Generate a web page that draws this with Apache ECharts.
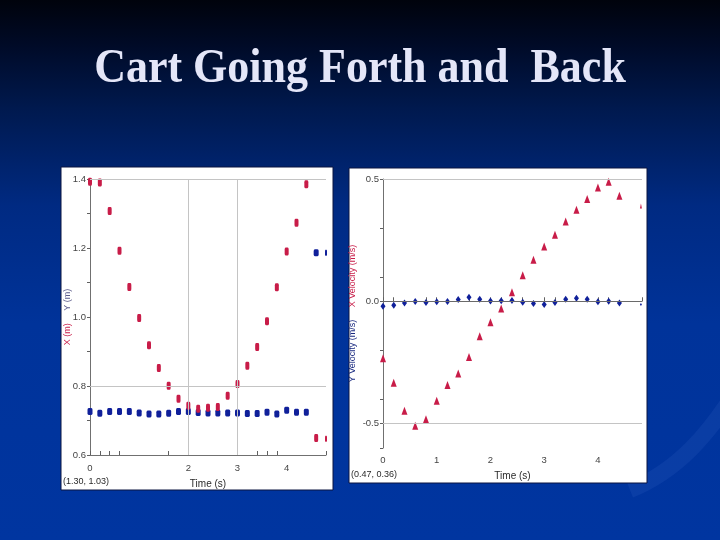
<!DOCTYPE html>
<html>
<head>
<meta charset="utf-8">
<script src="https://cdn.jsdelivr.net/npm/echarts@6/dist/echarts.min.js"></script>
<style>
html,body{margin:0;padding:0;background:#001a60;}
#chart{width:720px;height:540px;}
</style>
</head>
<body>
<div id="chart"></div>
<script>
// ---- data ----
const titleText = 'Cart Going Forth and  Back';
const time = [0, 0.2, 0.4, 0.6, 0.8, 1.0, 1.2, 1.4, 1.6, 1.8, 2.0, 2.2, 2.4, 2.6, 2.8, 3.0, 3.2, 3.4, 3.6, 3.8, 4.0, 4.2, 4.4, 4.6, 4.8];
// left graph: position
const posX = [1.392, 1.390, 1.307, 1.192, 1.087, 0.997, 0.918, 0.852, 0.801, 0.763, 0.743, 0.734, 0.737, 0.739, 0.772, 0.806, 0.859, 0.913, 0.988, 1.086, 1.190, 1.273, 1.385, 0.649, 0.647];
const posY = [0.726, 0.721, 0.726, 0.726, 0.726, 0.722, 0.719, 0.719, 0.721, 0.726, 0.726, 0.723, 0.722, 0.722, 0.722, 0.722, 0.720, 0.720, 0.724, 0.719, 0.730, 0.724, 0.724, 1.186, 1.186];
// right graph: velocity
const velX = [-0.233, -0.333, -0.448, -0.509, -0.482, -0.407, -0.342, -0.295, -0.228, -0.143, -0.086, -0.030, 0.037, 0.106, 0.170, 0.224, 0.272, 0.326, 0.374, 0.418, 0.465, 0.489, 0.431, null, 0.390];
const velY = [-0.020, -0.016, -0.007, -0.001, -0.005, -0.002, -0.001, 0.007, 0.016, 0.008, 0.001, 0.002, 0.003, -0.004, -0.009, -0.013, -0.005, 0.008, 0.012, 0.008, -0.002, 0.000, -0.007, null, -0.013];
// axis ticks / labels
const leftXTicks = [0, 0.2, 0.4, 0.6, 1.6, 2, 3, 3.4, 3.6, 3.8, 4.8];
const leftXLabels = [0, 2, 3, 4];
const leftYTicks = [0.6, 0.7, 0.8, 0.9, 1.0, 1.1, 1.2, 1.3, 1.4];
const leftYLabels = [0.6, 0.8, 1.0, 1.2, 1.4];
const leftGridY = [1.4, 0.8];
const leftGridX = [2, 3];
const rightXTicks = [0, 0.2, 0.8, 1, 1.6, 2, 2.2, 2.6, 3, 3.2, 3.6, 4, 4.2, 4.82];
const rightXLabels = [0, 1, 2, 3, 4];
const rightYTicks = [0.5, 0.3, 0.1, 0, -0.2, -0.4, -0.5, -0.6];
const rightYLabels = [0.5, 0, -0.5];
const rightGridY = [0.5, -0.5];
const rightZeroY = [0];
const leftReadout = '(1.30, 1.03)';
const rightReadout = '(0.47, 0.36)';
const xName = 'Time (s)';

// ---- build ----
const pair = (xs, ys) => xs.map((x, i) => [x, ys[i]]).filter(p => p[1] !== null);
const RED = '#c81c48', BLUE = '#10209a';
const edgeSize = (full, small) => (v) => v[0] >= 4.79 ? small : full;
const lblStyle = {color: '#444444', fontSize: 9.5, fontFamily: 'Liberation Sans'};

function xAxisCfg(idx, max, ticks, labels, margin) {
  return {
    type: 'value', gridIndex: idx, min: 0, max: max,
    name: xName, nameLocation: 'middle', nameGap: idx === 0 ? 24 : 23, nameMoveOverlap: false,
    nameTextStyle: {color: '#2a2a2a', fontSize: 10, fontFamily: 'Liberation Sans'},
    axisLine: {show: true, lineStyle: {color: '#707070', width: 1}},
    axisTick: {show: true, inside: true, length: 4, customValues: ticks, lineStyle: {color: '#606060'}},
    axisLabel: Object.assign({customValues: labels, margin: margin, formatter: v => String(Math.round(v))}, lblStyle),
    splitLine: {show: false}
  };
}

const option = {
  animation: false,
  graphic: [
    {type: 'rect', z: -20, shape: {x: 0, y: 0, width: 720, height: 540},
     style: {fill: {type: 'linear', x: 0, y: 0, x2: 0, y2: 1, colorStops: [
       {offset: 0, color: '#00030c'}, {offset: 0.08, color: '#000a26'}, {offset: 0.2, color: '#00194e'},
       {offset: 0.38, color: '#002a82'}, {offset: 0.6, color: '#00339a'}, {offset: 1, color: '#0035a0'}]}}},
    {type: 'bezierCurve', z: -19, shape: {x1: 630, y1: 490, x2: 730, y2: 400, cpx1: 680, cpy1: 470, cpx2: 710, cpy2: 430},
     style: {stroke: 'rgba(80,120,220,0.13)', lineWidth: 16, fill: null}},
    {type: 'rect', z: -5, shape: {x: 61, y: 167, width: 272, height: 323}, style: {fill: '#ffffff', stroke: '#0a1440', lineWidth: 1}},
    {type: 'rect', z: -5, shape: {x: 349, y: 168, width: 298, height: 315}, style: {fill: '#ffffff', stroke: '#0a1440', lineWidth: 1}},
    {type: 'text', z: 5, x: 360, y: 70, scaleY: 1.1, originX: 0, originY: 0,
     style: {text: titleText, fill: '#e4e6f8', font: 'bold 44px "Liberation Serif"',
      align: 'center', verticalAlign: 'middle', shadowColor: 'rgba(0,0,0,0.6)', shadowOffsetX: 2, shadowOffsetY: 2, shadowBlur: 2}},
    {type: 'text', z: 5, x: 63, y: 477, style: {text: leftReadout, fill: '#2a2a2a', font: '9px "Liberation Sans"'}},
    {type: 'text', z: 5, x: 351, y: 470, style: {text: rightReadout, fill: '#2a2a2a', font: '9px "Liberation Sans"'}}
  ],
  grid: [
    {left: 90, top: 179, width: 236, height: 276},
    {left: 383, top: 179, width: 259, height: 269}
  ],
  xAxis: [
    xAxisCfg(0, 4.8, leftXTicks, leftXLabels, 8),
    xAxisCfg(1, 4.82, rightXTicks, rightXLabels, 7)
  ],
  yAxis: [
    {type: 'value', gridIndex: 0, min: 0.6, max: 1.4,
     name: '{r|X (m)}     {b|Y (m)}', nameLocation: 'middle', nameRotate: 90, nameGap: 18, nameMoveOverlap: false,
     nameTextStyle: {fontSize: 9, fontFamily: 'Liberation Sans', rich: {r: {color: RED, fontSize: 9}, b: {color: '#5a5a8a', fontSize: 9}}},
     axisLine: {show: true, lineStyle: {color: '#707070'}},
     axisTick: {show: true, length: 3, customValues: leftYTicks, lineStyle: {color: '#606060'}},
     axisLabel: Object.assign({customValues: leftYLabels, margin: 4, formatter: v => v.toFixed(1)}, lblStyle),
     splitLine: {show: false}},
    {type: 'value', gridIndex: 1, min: -0.6, max: 0.5,
     name: '{b|Y Velocity (m/s)}     {r|X Velocity (m/s)}', nameLocation: 'middle', nameRotate: 90, nameGap: 26, nameMoveOverlap: false,
     nameTextStyle: {fontSize: 9, fontFamily: 'Liberation Sans', rich: {r: {color: RED, fontSize: 9}, b: {color: '#1a2a80', fontSize: 9}}},
     axisLine: {show: true, onZero: false, lineStyle: {color: '#707070'}},
     axisTick: {show: true, length: 3, customValues: rightYTicks, lineStyle: {color: '#606060'}},
     axisLabel: Object.assign({customValues: rightYLabels, margin: 4, formatter: v => v.toFixed(1)}, lblStyle),
     splitLine: {show: false}}
  ],
  series: [
    {type: 'scatter', xAxisIndex: 0, yAxisIndex: 0, data: [], z: 1, silent: true,
     markLine: {silent: true, symbol: 'none', label: {show: false}, lineStyle: {color: '#c4c4c4', width: 1, type: 'solid'},
       data: leftGridY.map(v => ({yAxis: v})).concat(leftGridX.map(v => ({xAxis: v})))}},
    {type: 'scatter', xAxisIndex: 1, yAxisIndex: 1, data: [], z: 1, silent: true,
     markLine: {silent: true, symbol: 'none', label: {show: false}, lineStyle: {color: '#c4c4c4', width: 1, type: 'solid'},
       data: rightGridY.map(v => ({yAxis: v})).concat(rightZeroY.map(v => ({yAxis: v, lineStyle: {color: '#6a6a6a'}})))}},
    {name: 'Y', type: 'scatter', xAxisIndex: 0, yAxisIndex: 0, z: 3, data: pair(time, posY),
     symbol: 'roundRect', symbolSize: edgeSize([5, 7], [2, 6]), itemStyle: {color: BLUE, opacity: 1}},
    {name: 'X', type: 'scatter', xAxisIndex: 0, yAxisIndex: 0, z: 4, data: pair(time, posX),
     symbol: 'roundRect', symbolSize: edgeSize([4, 8], [2, 6]), itemStyle: {color: RED, opacity: 1}},
    {name: 'Vy', type: 'scatter', xAxisIndex: 1, yAxisIndex: 1, z: 3, data: pair(time, velY),
     symbol: 'diamond', symbolSize: edgeSize([5, 7], [2, 3]), itemStyle: {color: BLUE, opacity: 1}},
    {name: 'Vx', type: 'scatter', xAxisIndex: 1, yAxisIndex: 1, z: 4, data: pair(time, velX),
     symbol: 'triangle', symbolSize: edgeSize([6, 8], [2, 5]), itemStyle: {color: RED, opacity: 1}}
  ]
};

const chart = echarts.init(document.getElementById('chart'), null, {renderer: 'canvas'});
chart.setOption(option);
</script>
</body>
</html>
